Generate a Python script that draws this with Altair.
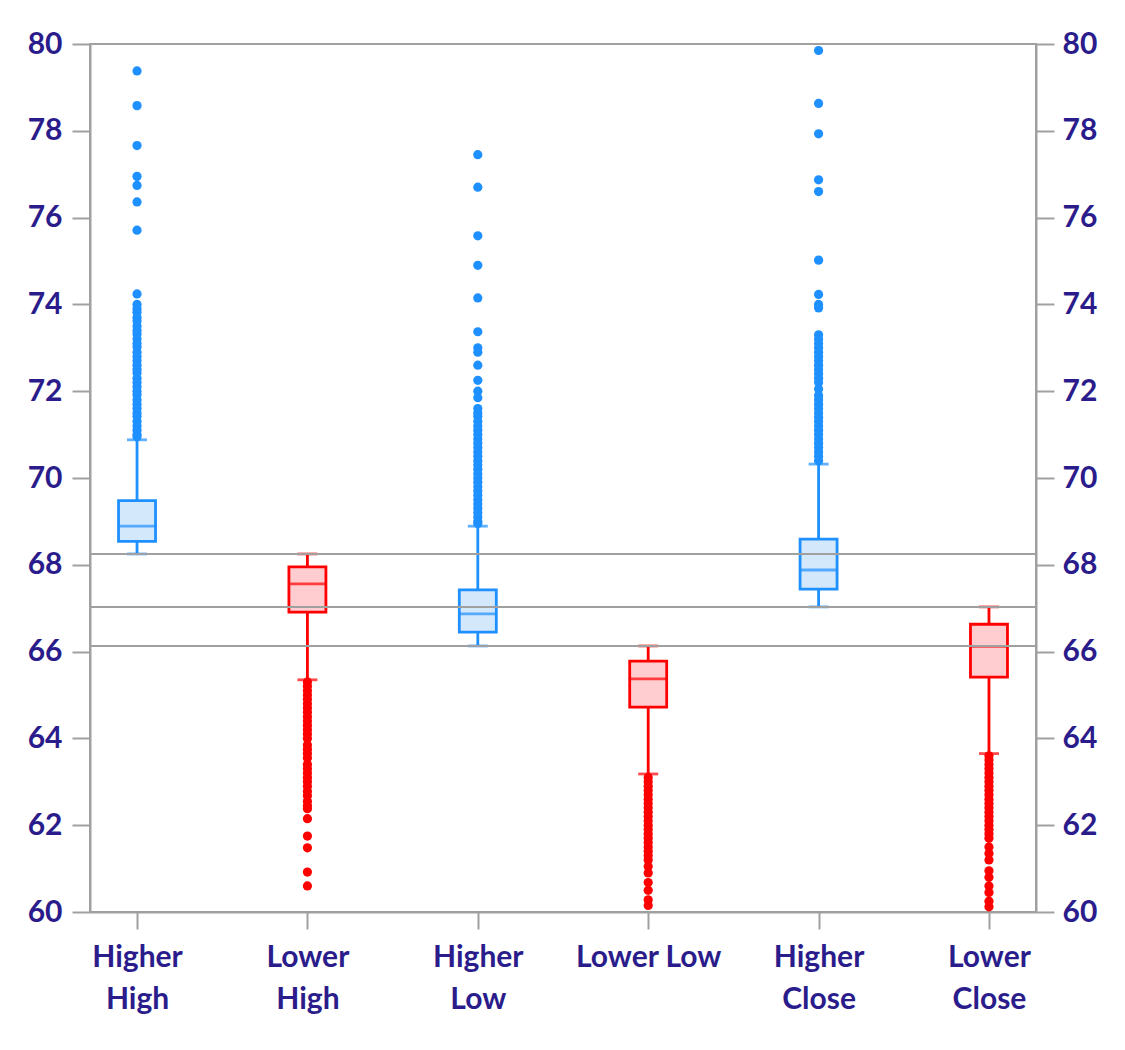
import altair as alt
import pandas as pd

categories = ["Higher|High", "Lower|High", "Higher|Low", "Lower Low", "Higher|Close", "Lower|Close"]
groups = ["up", "down", "up", "down", "up", "down"]
whisker_low = [68.25, 65.35, 66.13, 63.18, 67.03, 63.65]
q1_vals = [68.54, 66.91, 66.45, 64.72, 67.44, 65.41]
median_vals = [68.89, 67.56, 66.87, 65.37, 67.88, 66.12]
q3_vals = [69.48, 67.95, 67.42, 65.78, 68.59, 66.63]
whisker_high = [70.88, 68.25, 68.89, 66.13, 70.32, 67.03]
ref_levels = [68.25, 67.03, 66.13]

out_hh = [79.38, 78.58, 77.66, 76.95, 76.74, 76.36, 75.71, 74.24,
          74.0, 73.9, 73.82, 73.7, 73.62, 73.5, 73.4, 73.32, 73.2, 73.1, 73.02,
          72.9, 72.8, 72.7, 72.6, 72.5, 72.42, 72.3, 72.2, 72.1, 72.0, 71.92,
          71.8, 71.7, 71.6, 71.5, 71.42, 71.3, 71.2, 71.1, 71.0, 70.95]
out_lh = [65.3, 65.2, 65.1, 65.0, 64.9, 64.8, 64.7, 64.6, 64.5, 64.4, 64.3,
          64.2, 64.1, 64.0, 63.85, 63.75, 63.65, 63.55, 63.4, 63.3, 63.2, 63.1,
          63.0, 62.9, 62.78, 62.68, 62.55, 62.45, 62.38,
          62.15, 61.75, 61.48, 60.92, 60.6]
out_hl = [77.45, 76.7, 75.58, 74.9, 74.15, 73.37, 73.0, 72.9, 72.6, 72.25,
          72.0, 71.85,
          71.6, 71.5, 71.42, 71.3, 71.2, 71.1, 71.0, 70.9, 70.8, 70.7, 70.6,
          70.5, 70.4, 70.3, 70.2, 70.1, 70.0, 69.9, 69.8, 69.7, 69.6, 69.5,
          69.4, 69.3, 69.2, 69.1, 69.0, 68.95]
out_ll = [63.1, 63.0, 62.9, 62.8, 62.7, 62.6, 62.5, 62.4, 62.3, 62.2, 62.1,
          62.0, 61.9, 61.8, 61.7, 61.6, 61.5, 61.4, 61.3, 61.2,
          61.05, 60.9, 60.68, 60.5, 60.28, 60.15]
out_hc = [79.85, 78.63, 77.93, 76.87, 76.6, 75.02, 74.23, 74.0, 73.92,
          73.3, 73.2, 73.1, 73.0, 72.9, 72.8, 72.7, 72.6, 72.5, 72.4, 72.3,
          72.2, 72.05, 71.9, 71.8, 71.7, 71.6, 71.5, 71.4, 71.3, 71.2, 71.1,
          71.0, 70.9, 70.8, 70.7, 70.6, 70.5, 70.4]
out_lc = [63.6, 63.5, 63.4, 63.3, 63.2, 63.1, 63.0, 62.9, 62.8, 62.7, 62.6,
          62.5, 62.4, 62.3, 62.2, 62.1, 62.0, 61.9, 61.8, 61.7,
          61.5, 61.35, 61.2, 60.95, 60.8, 60.6, 60.45, 60.25, 60.12]
outlier_lists = [out_hh, out_lh, out_hl, out_ll, out_hc, out_lc]

BLUE = "#1E90FF"
RED = "#FF0000"
BLUE_FILL = "#D4E8FB"
RED_FILL = "#FFCCD0"
GRAY = "#A0A0A0"
LABEL = "#2B1C8C"
FONT = "Lato"
FSIZE = 30

stats = pd.DataFrame({
    "cat": categories, "grp": groups, "lo": whisker_low, "q1": q1_vals,
    "med": median_vals, "q3": q3_vals, "hi": whisker_high,
})
caps = pd.DataFrame({
    "cat": categories + categories,
    "grp": groups + groups,
    "v": whisker_low + whisker_high,
})
out_rows = []
for c, g, lst in zip(categories, groups, outlier_lists):
    for v in lst:
        out_rows.append({"cat": c, "grp": g, "v": v})
outliers = pd.DataFrame(out_rows)
refs = pd.DataFrame({"v": ref_levels})

xenc = alt.X(
    "cat:N",
    sort=categories,
    scale=alt.Scale(type="point", padding=0.276, domain=categories),
    axis=alt.Axis(
        title=None, labelExpr="split(datum.label, '|')", labelAngle=0,
        labelFont=FONT, labelFontSize=FSIZE, labelFontWeight="bold",
        labelColor=LABEL, labelLineHeight=42, labelPadding=13,
        domainColor=GRAY, domainWidth=2, tickColor=GRAY, tickWidth=2,
        tickSize=17, grid=False,
    ),
)
yscale = alt.Scale(domain=[60, 80], nice=False, zero=False)
yvals = [60, 62, 64, 66, 68, 70, 72, 74, 76, 78, 80]


def yaxis(orient, pad):
    return alt.Axis(
        orient=orient, title=None, values=yvals, labelFont=FONT,
        labelFontSize=FSIZE, labelFontWeight="bold", labelColor=LABEL,
        labelPadding=pad, domainColor=GRAY, domainWidth=2, tickColor=GRAY,
        tickWidth=2, tickSize=18, grid=False,
    )


stroke_scale = alt.Scale(domain=["up", "down"], range=[BLUE, RED])
fill_scale = alt.Scale(domain=["up", "down"], range=[BLUE_FILL, RED_FILL])

base = alt.Chart(stats)

whisk = base.mark_rule(strokeWidth=2.8).encode(
    x=xenc,
    y=alt.Y("lo:Q", scale=yscale, axis=yaxis("left", 10)),
    y2="hi:Q",
    color=alt.Color("grp:N", scale=stroke_scale, legend=None),
)
box = base.mark_bar(size=37, strokeWidth=2.8).encode(
    x=xenc,
    y=alt.Y("q1:Q", scale=yscale, axis=None),
    y2="q3:Q",
    fill=alt.Fill("grp:N", scale=fill_scale, legend=None),
    stroke=alt.Stroke("grp:N", scale=stroke_scale, legend=None),
)
med = base.mark_tick(size=37, thickness=2.8).encode(
    x=xenc,
    y=alt.Y("med:Q", scale=yscale, axis=None),
    color=alt.Color("grp:N", scale=stroke_scale, legend=None),
)
cap = alt.Chart(caps).mark_tick(size=20, thickness=2.8).encode(
    x=xenc,
    y=alt.Y("v:Q", scale=yscale, axis=None),
    color=alt.Color("grp:N", scale=stroke_scale, legend=None),
)
pts = alt.Chart(outliers).mark_circle(size=85, opacity=1).encode(
    x=xenc,
    y=alt.Y("v:Q", scale=yscale, axis=None),
    color=alt.Color("grp:N", scale=stroke_scale, legend=None),
)
ref = alt.Chart(refs).mark_rule(color=GRAY, strokeWidth=2).encode(
    y=alt.Y("v:Q", scale=yscale, axis=yaxis("right", 8)),
)

chart = (
    alt.layer(whisk, box, med, cap, pts, ref)
    .resolve_axis(y="independent")
    .properties(
        width=946, height=868,
        autosize=alt.AutoSizeParams(type="none"),
        padding={"left": 82, "top": 36, "right": 78, "bottom": 120},
        background="white",
    )
    .configure_view(stroke=GRAY, strokeWidth=2)
)

chart.save("out.html", embed_options={"renderer": "svg", "actions": False})
